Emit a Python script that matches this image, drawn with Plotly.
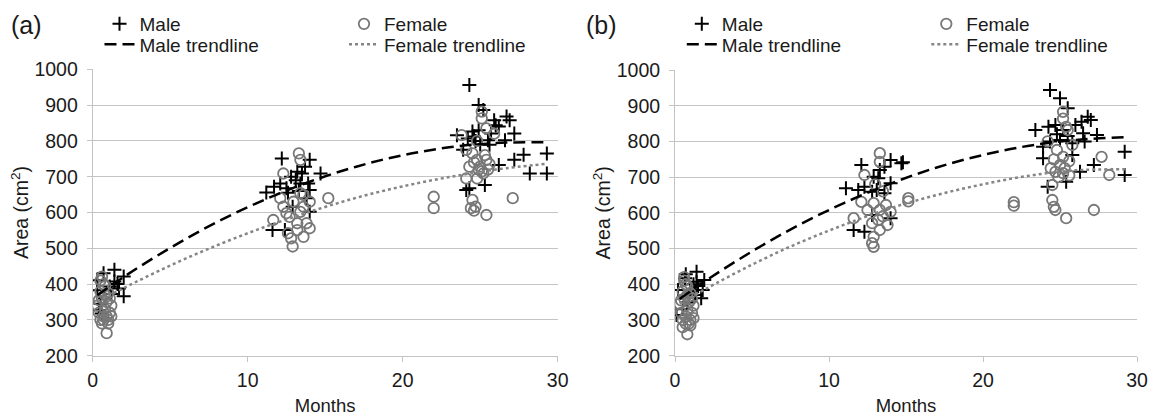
import plotly.graph_objects as go

W, H = 1149, 416

# ---------------- data ----------------
male_a_x = [0.3, 0.7, 1.4, 2.0, 1.4, 1.7, 2.0, 0.3, 0.4, 0.6, 1.1, 1.6, 0.8, 1.2, 0.5,
            12.2, 14.0, 13.7, 14.7, 11.2, 11.7, 12.1, 12.5, 12.8, 13.2, 13.5, 13.9, 13.4, 14.0, 11.6,
            12.4, 12.9, 14.0, 13.1, 12.6, 13.3, 13.8,
            24.3, 24.9, 25.2, 25.9, 26.2, 26.7, 26.9, 27.2, 26.6, 25.7, 25.5, 24.9, 24.5, 24.6, 24.2,
            23.5, 23.9, 25.6, 27.8, 27.2, 26.2, 29.3, 28.2, 29.3, 25.3, 24.3, 24.1, 25.0, 24.7, 26.0]
male_a_y = [411, 430, 440, 421, 407, 388, 366, 383, 327, 318, 393, 400, 360, 372, 345,
            751, 747, 728, 709, 656, 672, 681, 668, 700, 714, 709, 681, 681, 663, 551,
            551, 616, 602, 690, 655, 660, 640,
            956, 900, 886, 858, 840, 868, 858, 821, 802, 821, 802, 830, 826, 812, 807,
            816, 775, 789, 761, 747, 733, 765, 709, 709, 677, 668, 663, 790, 800, 844]

female_a_x = [0.3, 0.4, 0.5, 0.6, 0.9, 0.7, 0.8, 1.0, 0.9, 0.6, 0.5, 0.7, 0.6, 0.8, 1.0, 1.1, 1.2,
              0.9, 0.7, 1.0, 0.4, 1.1, 0.8, 0.5, 1.2,
              13.3, 13.4, 12.3, 13.6, 12.1, 12.3, 12.95, 14.0, 13.4, 12.7, 13.2, 13.8, 14.0, 12.6,
              12.8, 12.9, 11.65, 15.2, 12.5, 13.4, 13.6, 13.2, 13.6,
              25.1, 25.1, 25.4, 23.8, 24.1, 24.5, 24.8, 24.3, 25.0, 25.2, 24.1, 24.8, 24.5, 24.4,
              24.7, 24.6, 25.4, 22.0, 22.0, 27.1, 25.1, 25.4, 24.6, 25.3, 24.9, 25.6, 25.5, 24.8, 25.9]
female_a_y = [340, 320, 300, 290, 263, 310, 330, 300, 350, 360, 380, 400, 421, 395, 375, 320, 340,
              310, 300, 290, 355, 360, 370, 410, 310,
              765, 747, 709, 649, 640, 616, 630, 630, 602, 588, 570, 570, 556, 542,
              528, 505, 579, 640, 598, 654, 616, 551, 532,
              882, 863, 835, 816, 775, 765, 747, 728, 728, 709, 695, 695, 635, 612,
              616, 605, 593, 644, 612, 640, 715, 747, 740, 760, 720, 735, 720, 800, 820]

male_b_x = [0.65, 1.4, 1.4, 1.9, 1.8, 1.7, 0.2, 0.1, 0.7, 1.2, 1.5, 1.0, 0.8, 1.3, 0.5,
            12.1, 11.1, 14.0, 14.7, 13.6, 13.3, 12.9, 14.0, 12.3, 11.9, 12.8, 13.1, 13.6, 11.6,
            12.3, 12.8, 14.0, 13.2, 14.8,
            24.35, 25.0, 25.5, 24.25, 24.7, 25.2, 26.0, 26.4, 26.8, 27.0, 27.4, 26.5, 26.6, 25.8,
            25.0, 24.35, 23.9, 25.8, 23.9, 26.3, 27.2, 29.2, 29.2, 25.4, 24.2, 24.8, 25.5, 23.4]
male_b_y = [417, 435, 407, 412, 384, 361, 384, 314, 428, 400, 395, 380, 350, 370, 330,
            734, 669, 748, 739, 729, 720, 701, 683, 673, 664, 659, 664, 655, 552,
            547, 594, 585, 697, 742,
            944, 921, 893, 841, 846, 832, 846, 855, 869, 860, 818, 823, 800, 795,
            804, 800, 785, 762, 753, 715, 734, 771, 706, 687, 673, 820, 815, 832]

female_b_x = [0.3, 0.4, 0.5, 0.5, 0.8, 0.7, 0.8, 1.0, 0.9, 0.6, 0.5, 0.7, 0.6, 0.8, 1.0, 1.1, 1.2,
              0.9, 0.7, 1.0, 0.4, 1.1, 0.8, 0.6, 1.2,
              13.3, 13.3, 12.3, 12.1, 12.9, 12.5, 13.3, 13.7, 14.0, 13.2, 12.8, 13.8, 13.3, 12.9,
              12.8, 12.9, 11.6, 15.15, 15.15, 13.5, 13.0, 13.5,
              25.2, 25.2, 25.4, 25.5, 24.8, 25.2, 25.0, 24.4, 24.7, 25.2, 24.5, 24.5, 24.6, 24.7,
              25.4, 27.2, 27.7, 28.2, 22.0, 22.0, 24.6, 25.6, 25.3, 24.9, 25.6, 24.2, 25.8]
female_b_y = [345, 320, 300, 280, 260, 310, 330, 300, 350, 360, 380, 400, 420, 395, 375, 320, 340,
              290, 290, 285, 355, 360, 370, 410, 305,
              767, 743, 706, 631, 627, 608, 608, 622, 603, 580, 571, 566, 552, 533,
              515, 505, 585, 641, 632, 660, 680, 590,
              883, 864, 841, 832, 776, 757, 734, 725, 715, 711, 678, 636, 617, 608,
              585, 608, 757, 706, 630, 620, 750, 745, 725, 700, 705, 800, 790]

trend_x = [0.3, 2, 5, 8, 11, 14, 17, 20, 23, 26, 29.3]
male_trend_a = [369, 420, 501, 573, 634, 686, 728, 760, 782, 794, 796]
female_trend_a = [352, 389, 452, 508, 558, 602, 641, 673, 699, 720, 736]
male_trend_b = [359, 410, 492, 565, 628, 682, 727, 762, 788, 804, 812]
female_trend_b = [346, 387, 455, 515, 567, 613, 650, 680, 704, 719, 722]

x_ticks = [0, 10, 20, 30]
y_ticks = [200, 300, 400, 500, 600, 700, 800, 900, 1000]
panel_labels = ["(a)", "(b)"]
series_names = ["Male", "Female", "Male trendline", "Female trendline"]

# ---------------- styling ----------------
FONT = "Liberation Sans, Arial, sans-serif"
TXT = "#1a1a1a"
GRID = "#c4c4c4"
GRAY = "#777777"
TGRAY = "#858585"

fig = go.Figure()

panels = [
    dict(xa="x", ya="y", mx=male_a_x, my=male_a_y, fx=female_a_x, fy=female_a_y,
         mt=male_trend_a, ft=female_trend_a, leg=["legend", "legend2", "legend3", "legend4"]),
    dict(xa="x2", ya="y2", mx=male_b_x, my=male_b_y, fx=female_b_x, fy=female_b_y,
         mt=male_trend_b, ft=female_trend_b, leg=["legend5", "legend6", "legend7", "legend8"]),
]

for p in panels:
    fig.add_trace(go.Scatter(x=p["mx"], y=p["my"], mode="markers", name=series_names[0],
                             xaxis=p["xa"], yaxis=p["ya"], legend=p["leg"][0],
                             marker=dict(symbol="cross-thin-open", size=10, color="black",
                                         line=dict(color="black", width=2))))
    fig.add_trace(go.Scatter(x=p["fx"], y=p["fy"], mode="markers", name=series_names[1],
                             xaxis=p["xa"], yaxis=p["ya"], legend=p["leg"][1],
                             marker=dict(symbol="circle-open", size=10.5, color=GRAY,
                                         line=dict(color=GRAY, width=1.8))))
    fig.add_trace(go.Scatter(x=trend_x, y=p["mt"], mode="lines", name=series_names[2],
                             xaxis=p["xa"], yaxis=p["ya"], legend=p["leg"][2],
                             line=dict(color="black", width=2.5, dash="12px,6px", shape="spline")))
    fig.add_trace(go.Scatter(x=trend_x, y=p["ft"], mode="lines", name=series_names[3],
                             xaxis=p["xa"], yaxis=p["ya"], legend=p["leg"][3],
                             line=dict(color=TGRAY, width=2.5, dash="dot", shape="spline")))

def px_x(v):
    return v / W

def px_y(v):
    return 1 - v / H

axis_common = dict(showgrid=False, zeroline=False, showline=True, linecolor=GRID, linewidth=1,
                   ticks="outside", ticklen=5, tickcolor=GRID,
                   tickfont=dict(family=FONT, size=19.5, color=TXT), automargin=False)

xa_common = dict(axis_common, range=[0, 30], tickvals=x_ticks, ticklabelstandoff=2,
                 title=dict(text="Months", font=dict(family=FONT, size=18.5, color=TXT), standoff=14))
ya_common = dict(axis_common, range=[200, 1000], tickvals=y_ticks, showgrid=True, gridcolor=GRID,
                 gridwidth=1, ticklabelstandoff=5,
                 title=dict(text="Area (cm<sup>2</sup>)", font=dict(family=FONT, size=19.5, color=TXT),
                            standoff=0))

legend_rows = [24, 44.5]
legend_text_x = [139.5, 384]  # panel (a) text start positions in px
panel_offset = [0, 582.3]

legends = {}
k = 0
order = [(0, 0), (0, 1), (1, 0), (1, 1)]  # (row, col) for Male, Female, Male trend, Female trend
for pi in range(2):
    for si, (row, col) in enumerate(order):
        k += 1
        name = "legend" if k == 1 else f"legend{k}"
        legends[name] = dict(
            x=px_x(legend_text_x[col] - 40 + panel_offset[pi]), xanchor="left",
            y=px_y(legend_rows[row]), yanchor="middle",
            bgcolor="rgba(0,0,0,0)", borderwidth=0, itemwidth=30,
            font=dict(family=FONT, size=19, color=TXT))

fig.update_layout(
    width=W, height=H,
    margin=dict(l=0, r=0, t=0, b=0),
    paper_bgcolor="white", plot_bgcolor="white",
    showlegend=True,
    xaxis=dict(xa_common, domain=[px_x(92.7), px_x(557.7)], anchor="y"),
    yaxis=dict(ya_common, domain=[px_y(355.7), px_y(69.3)], anchor="x"),
    xaxis2=dict(xa_common, domain=[px_x(675), px_x(1137)], anchor="y2"),
    yaxis2=dict(ya_common, domain=[px_y(355.7), px_y(70)], anchor="x2"),
    **legends,
)

for i, lab in enumerate(panel_labels):
    fig.add_annotation(text=lab, xref="paper", yref="paper", x=px_x(9 + 575 * i), y=px_y(25),
                       xanchor="left", yanchor="middle", showarrow=False,
                       font=dict(family=FONT, size=25, color=TXT))

fig.write_html("out.html", config={"displayModeBar": False},
               post_script="document.body.style.margin='0';")
